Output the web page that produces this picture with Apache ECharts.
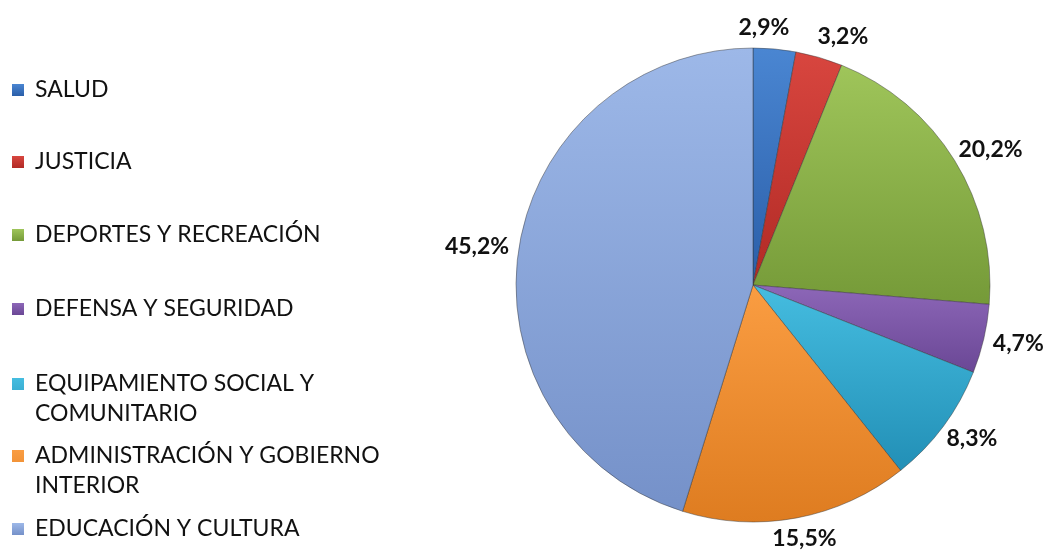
<!DOCTYPE html>
<html>
<head>
<meta charset="utf-8">
<script src="https://cdn.jsdelivr.net/npm/echarts@6/dist/echarts.min.js"></script>
<style>
  html, body { margin: 0; padding: 0; background: #fff; }
  #chart { width: 1049px; height: 552px; }
</style>
</head>
<body>
<div id="chart"></div>
<script>
const categories = [
  'SALUD',
  'JUSTICIA',
  'DEPORTES Y RECREACIÓN',
  'DEFENSA Y SEGURIDAD',
  'EQUIPAMIENTO SOCIAL Y COMUNITARIO',
  'ADMINISTRACIÓN Y GOBIERNO INTERIOR',
  'EDUCACIÓN Y CULTURA',
]
const legendLabels = [
  'SALUD',
  'JUSTICIA',
  'DEPORTES Y RECREACIÓN',
  'DEFENSA Y SEGURIDAD',
  'EQUIPAMIENTO SOCIAL Y\nCOMUNITARIO',
  'ADMINISTRACIÓN Y GOBIERNO\nINTERIOR',
  'EDUCACIÓN Y CULTURA',
]
const shares = [2.9, 3.2, 20.2, 4.7, 8.3, 15.5, 45.2]

// light (top) / dark (bottom) shade of each slice
const lightColors = ['#4a86d2', '#d8463f', '#9fc55a', '#8d67b8', '#45bde0', '#fa9d42', '#9db8e8']
const darkColors = ['#2a5ea8', '#b12a25', '#759a38', '#6a4795', '#228fb6', '#de7c20', '#7591c9']

// centre of the first text line of each legend row
const legendRows = [81, 153, 226, 300, 375, 447, 520]

const font = 'Lato, "Noto Sans", sans-serif'
const LABEL_SIZE = 23
const CX = 753
const CY = 285
const R = 237
const LINE_H = 30
const SQ = 12

const fmtPct = (v) => v.toFixed(1).replace('.', ',') + '%'

const chart = echarts.init(document.getElementById('chart'), null, { renderer: 'canvas' })

const fills = lightColors.map((c, i) => new echarts.graphic.LinearGradient(0, 0, 0, 1, [
  { offset: 0, color: c },
  { offset: 1, color: darkColors[i] },
]))

// square icon at the top of the item, with an invisible corner so the
// text of two-line entries starts level with the square
const iconFor = (lines) => {
  const h = SQ + (lines - 1) * LINE_H
  return {
    h,
    path: `path://M0,0H${SQ}V${SQ}H0Z M18,${h}H17.99V${h - 0.01}Z`,
  }
}

const legends = categories.map((name, i) => {
  const lines = legendLabels[i].split('\n').length
  const ic = iconFor(lines)
  return {
    data: [name],
    orient: 'vertical',
    left: 12,
    top: legendRows[i] - SQ / 2,
    padding: 0,
    itemWidth: 18,
    itemHeight: ic.h,
    itemGap: 0,
    icon: ic.path,
    itemStyle: { borderWidth: 0 },
    selectedMode: false,
    formatter: () => legendLabels[i],
    textStyle: {
      fontFamily: font,
      fontSize: 23,
      color: '#111',
      lineHeight: LINE_H,
    },
  }
})

//* label placement: just outside the rim, pushed apart where two collide
const total = shares.reduce((a, b) => a + b, 0)
const measure = document.createElement('canvas').getContext('2d')
measure.font = `bold ${LABEL_SIZE}px ${font}`

const labelPos = []
let acc = 0
shares.forEach((v, i) => {
  const a = ((acc + v / 2) / total) * Math.PI * 2
  acc += v
  const ux = Math.sin(a)
  const uy = -Math.cos(a)
  const w = measure.measureText(fmtPct(v)).width
  const h = LABEL_SIZE
  const g = 10
  labelPos.push({
    x: CX + (R + g + w / 2) * ux,
    y: CY + (R + g + h / 2) * uy,
    w,
    h,
  })
})
for (let i = 0; i + 1 < labelPos.length; i++) {
  const p = labelPos[i]
  const q = labelPos[i + 1]
  const minDx = (p.w + q.w) / 2 + 28
  const dx = Math.abs(q.x - p.x)
  if (Math.abs(q.y - p.y) < (p.h + q.h) / 2 && dx < minDx) {
    const s = (minDx - dx) / 2
    const dir = q.x >= p.x ? 1 : -1
    p.x -= s * dir
    q.x += s * dir
  }
}

const option = {
  animation: false,
  backgroundColor: '#fff',
  legend: legends,
  series: [
    {
      type: 'pie',
      center: [CX, CY],
      radius: R,
      startAngle: 90,
      clockwise: true,
      avoidLabelOverlap: false,
      itemStyle: {
        borderColor: 'rgba(50,50,50,0.45)',
        borderWidth: 1,
      },
      label: {
        show: true,
        position: 'outside',
        formatter: (p) => fmtPct(p.value),
        fontFamily: font,
        fontWeight: 'bold',
        fontSize: LABEL_SIZE,
        color: '#111',
      },
      labelLine: { show: false },
      labelLayout: (params) => ({
        x: labelPos[params.dataIndex].x,
        y: labelPos[params.dataIndex].y,
        align: 'center',
        verticalAlign: 'middle',
      }),
      emphasis: { disabled: true },
      data: categories.map((name, i) => ({
        name,
        value: shares[i],
        itemStyle: { color: fills[i] },
      })),
    },
  ],
}

chart.setOption(option)
</script>
</body>
</html>
